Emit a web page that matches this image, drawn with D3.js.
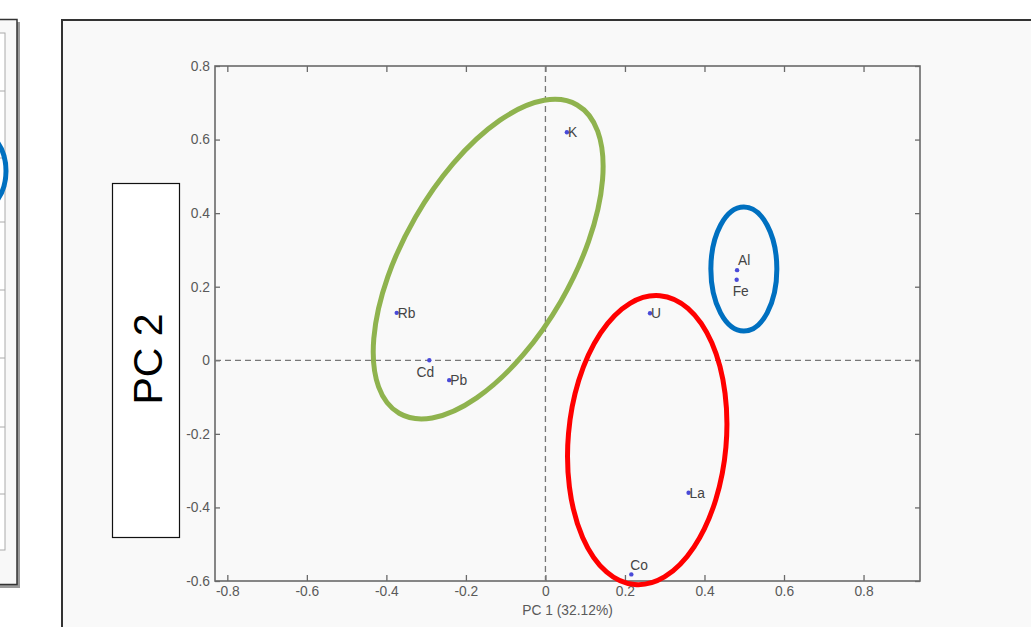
<!DOCTYPE html>
<html>
<head>
<meta charset="utf-8">
<script src="https://cdn.jsdelivr.net/npm/d3@7"></script>
<style>
  html, body { margin: 0; padding: 0; background: #ffffff; }
  svg { display: block; font-family: "Liberation Sans", Arial, sans-serif; }
</style>
</head>
<body>
<svg id="chart" width="1031" height="627"></svg>
<script>
// ---- data ----
const elements = ["K", "Rb", "Cd", "Pb", "Al", "Fe", "U", "La", "Co"];
const pc1 = [0.054, -0.374, -0.292, -0.242, 0.482, 0.481, 0.263, 0.360, 0.216];
const pc2 = [0.620, 0.129, 0.000, -0.054, 0.245, 0.219, 0.128, -0.360, -0.582];
const labelPlacement = ["right", "right", "below", "right", "above", "below", "right", "right", "aboveRight"];
const xTicks = [-0.8, -0.6, -0.4, -0.2, 0, 0.2, 0.4, 0.6, 0.8];
const yTicks = [-0.6, -0.4, -0.2, 0, 0.2, 0.4, 0.6, 0.8];
const xTitle = "PC 1 (32.12%)";
const yTitle = "PC 2";
// cluster outlines (centres in PC units)
const groupNames = ["green", "red", "blue"];
const groupCx = [-0.144, 0.256, 0.499];
const groupCy = [0.275, -0.217, 0.248];

// ---- layout / style ----
const W = 1031, H = 627;
const plot = { left: 215, right: 920, top: 66, bottom: 581 };
const groupStyle = {
  green: { rx: 178, ry: 84, rot: -60, color: "#8fb34e" },
  red:   { rx: 79,  ry: 145, rot: 5,  color: "#ff0000" },
  blue:  { rx: 33,  ry: 62,  rot: 0,  color: "#0070c0" }
};
const fontSize = "13.8px";

const svg = d3.select("#chart");

// left partial panel
const lp = svg.append("g");
lp.append("rect").attr("x", 17).attr("y", 22).attr("width", 3).attr("height", 565).attr("fill", "#9a9a9a");
lp.append("rect").attr("x", -5).attr("y", 585).attr("width", 25).attr("height", 3).attr("fill", "#9a9a9a");
lp.append("rect").attr("x", -5).attr("y", 19.5).attr("width", 22).attr("height", 565).attr("fill", "#f8f8f8")
  .attr("stroke", "#333").attr("stroke-width", 1.5);
lp.append("rect").attr("x", -5).attr("y", 33).attr("width", 10).attr("height", 517).attr("fill", "#ffffff")
  .attr("stroke", "#aaa").attr("stroke-width", 1);
[91, 158, 222, 290, 358, 427, 494].forEach(y => {
  lp.append("line").attr("x1", 0).attr("x2", 5).attr("y1", y).attr("y2", y).attr("stroke", "#aaa");
});
lp.append("ellipse").attr("cx", -22).attr("cy", 171).attr("rx", 28).attr("ry", 40)
  .attr("fill", "none").attr("stroke", "#0070c0").attr("stroke-width", 5);

// main panel frame
svg.append("rect").attr("x", 62).attr("y", 20).attr("width", W).attr("height", H)
  .attr("fill", "#f9f9f9").attr("stroke", "#333").attr("stroke-width", 2);

// scales
const x = d3.scaleLinear().domain([-0.831, 0.942]).range([plot.left, plot.right]);
const y = d3.scaleLinear().domain([-0.6, 0.8]).range([plot.bottom, plot.top]);

const g = svg.append("g");
const axisColor = "#6a6a6a";

// axes
const fmt = d => (d === 0 ? "0" : d.toFixed(1));
const xAxis = g.append("g").attr("transform", `translate(0,${plot.bottom})`)
  .call(d3.axisBottom(x).tickValues(xTicks).tickFormat(fmt).tickSizeInner(-6).tickSizeOuter(0).tickPadding(5));
const xAxisTop = g.append("g").attr("transform", `translate(0,${plot.top})`)
  .call(d3.axisTop(x).tickValues(xTicks).tickFormat("").tickSizeInner(-6).tickSizeOuter(0));
const yAxis = g.append("g").attr("transform", `translate(${plot.left},0)`)
  .call(d3.axisLeft(y).tickValues(yTicks).tickFormat(fmt).tickSizeInner(-5).tickSizeOuter(0).tickPadding(5));
const yAxisRight = g.append("g").attr("transform", `translate(${plot.right},0)`)
  .call(d3.axisRight(y).tickValues(yTicks).tickFormat("").tickSizeInner(-5).tickSizeOuter(0));
[xAxis, xAxisTop, yAxis, yAxisRight].forEach(a => {
  a.select(".domain").remove();
  a.selectAll("line").attr("stroke", axisColor).attr("stroke-width", 1.3);
  a.selectAll("text").attr("fill", "#5a5a5a").style("font-size", fontSize);
});

// box
g.append("rect").attr("x", plot.left).attr("y", plot.top)
  .attr("width", plot.right - plot.left).attr("height", plot.bottom - plot.top)
  .attr("fill", "none").attr("stroke", axisColor).attr("stroke-width", 1.6);

// zero dashed lines
g.append("line").attr("x1", x(0)).attr("x2", x(0)).attr("y1", plot.top).attr("y2", plot.bottom)
  .attr("stroke", "#777").attr("stroke-width", 1.3).attr("stroke-dasharray", "6,4");
g.append("line").attr("x1", plot.left).attr("x2", plot.right).attr("y1", y(0)).attr("y2", y(0))
  .attr("stroke", "#777").attr("stroke-width", 1.3).attr("stroke-dasharray", "6,4");

// x title
g.append("text").attr("x", (plot.left + plot.right) / 2).attr("y", 615)
  .attr("text-anchor", "middle").attr("fill", "#5a5a5a").style("font-size", fontSize).text(xTitle);

// points
const pts = elements.map((e, i) => ({ name: e, x: pc1[i], y: pc2[i], pos: labelPlacement[i] }));
g.selectAll("circle.pt").data(pts).join("circle").attr("class", "pt")
  .attr("cx", d => x(d.x)).attr("cy", d => y(d.y)).attr("r", 2.2).attr("fill", "#4a4ad8");

const lab = g.selectAll("text.lab").data(pts).join("text").attr("class", "lab")
  .attr("fill", "#444").style("font-size", fontSize)
  .attr("x", d => {
    const px = x(d.x);
    if (d.pos === "right") return px + 1;
    if (d.pos === "below") return px - 4;
    if (d.pos === "above") return px + 1;
    return px - 1;
  })
  .attr("y", d => {
    const py = y(d.y);
    if (d.pos === "right") return py + 5;
    if (d.pos === "below") return py + 17;
    if (d.pos === "above") return py - 5;
    return py - 4;
  })
  .attr("text-anchor", d => (d.pos === "below" ? "middle" : "start"))
  .text(d => d.name);
lab.filter(d => d.name === "Fe").attr("x", d => x(d.x) + 4).attr("y", d => y(d.y) + 16);

// cluster ellipses
groupNames.forEach((n, i) => {
  const s = groupStyle[n];
  g.append("ellipse")
    .attr("transform", `translate(${x(groupCx[i])},${y(groupCy[i])}) rotate(${s.rot})`)
    .attr("rx", s.rx).attr("ry", s.ry)
    .attr("fill", "none").attr("stroke", s.color).attr("stroke-width", 5);
});

// PC 2 box
svg.append("rect").attr("x", 112.5).attr("y", 183.5).attr("width", 67).attr("height", 354)
  .attr("fill", "#ffffff").attr("stroke", "#111").attr("stroke-width", 1.2);
svg.append("text").attr("transform", "translate(162,359) rotate(-90)")
  .attr("text-anchor", "middle").attr("fill", "#000").style("font-size", "41px").text(yTitle);
</script>
</body>
</html>
